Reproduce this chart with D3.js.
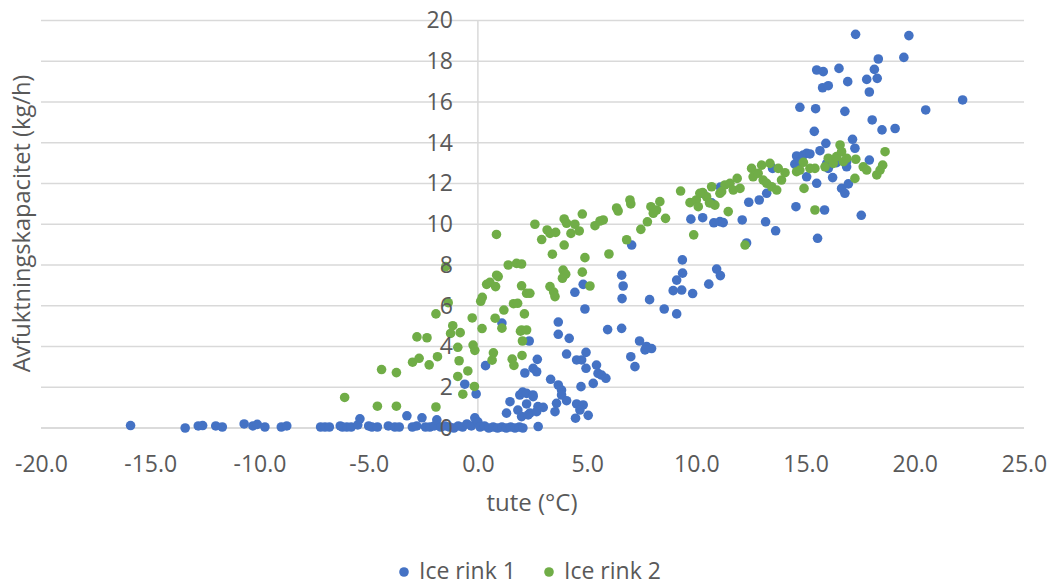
<!DOCTYPE html>
<html>
<head>
<meta charset="utf-8">
<script src="https://cdn.jsdelivr.net/npm/d3@7"></script>
<style>
  html, body { margin: 0; padding: 0; background: #ffffff; }
  svg { display: block; }
  text { font-family: "Open Sans", "Noto Sans", sans-serif; fill: #595959; }
</style>
</head>
<body>
<svg id="chart" width="1053" height="586"></svg>
<script>
// ---------- data ----------
const xTicks = [-20, -15, -10, -5, 0, 5, 10, 15, 20, 25];
const yTicks = [0, 2, 4, 6, 8, 10, 12, 14, 16, 18, 20];
const xTitle = "tute (°C)";
const yTitle = "Avfuktningskapacitet (kg/h)";
const seriesNames = ["Ice rink 1", "Ice rink 2"];
const seriesColors = ["#4472C4", "#70AD47"];

// Ice rink 1 : [outdoor temperature, capacity]
const rink1 = [
  [-15.9,0.12],[-13.4,0.0],[-12.8,0.1],[-12.6,0.12],[-12.0,0.1],[-11.7,0.05],[-10.7,0.2],[-10.3,0.1],
  [-10.1,0.18],[-9.75,0.05],[-9.0,0.05],[-8.75,0.1],[-7.2,0.05],[-7.0,0.05],[-6.8,0.05],[-6.3,0.1],
  [-6.2,0.05],[-6.0,0.05],[-5.8,0.05],[-5.5,0.15],[-5.4,0.45],[-5.0,0.1],[-4.85,0.05],[-4.6,0.05],
  [-4.1,0.1],[-3.8,0.05],[-3.6,0.05],[-3.25,0.6],[-3.0,0.05],[-2.8,0.1],[-2.56,0.5],[-2.4,0.05],
  [-2.2,0.05],[-2.0,0.1],[-1.88,0.4],[-1.7,0.05],[-1.5,0.1],[-1.3,0.05],[-1.1,0.0],[-0.9,0.1],
  [-0.7,0.05],[-0.5,0.2],[-0.3,0.1],[-0.14,0.5],[0.0,0.3],[0.1,0.05],[0.3,0.1],[0.5,0.0],
  [0.7,0.05],[0.9,0.0],[1.1,0.05],[1.3,0.0],[1.5,0.05],[1.7,0.0],[1.9,0.05],[2.06,0.0],[2.76,0.07],
  [-0.6,2.15],[-0.08,1.67],[0.35,3.06],[1.1,5.15],
  [1.31,0.73],[1.47,1.29],[1.83,0.88],[1.92,1.62],[2.05,1.76],[2.23,1.7],[2.52,1.62],[2.23,1.18],
  [2.38,0.73],[2.75,1.05],[2.99,1.01],[2.69,0.8],[2.0,0.56],[2.3,0.64],[2.53,1.54],[2.15,2.7],
  [2.53,2.93],[2.69,2.76],[2.72,3.37],[2.35,4.27],
  [3.33,2.39],[3.68,2.11],[3.83,1.86],[3.83,1.62],[3.6,1.21],[3.53,0.8],[4.06,1.34],[4.47,0.48],
  [4.52,1.18],[4.82,1.13],[4.67,0.88],[5.05,0.62],[4.72,2.03],[5.28,2.19],[5.5,2.68],[5.66,2.6],
  [5.86,2.44],[4.95,2.93],[5.43,3.09],[4.52,3.34],[4.75,3.34],[4.06,3.63],[4.95,3.71],[4.18,4.4],
  [3.68,4.6],[3.68,5.2],[4.9,5.84],[5.94,4.83],[6.58,4.89],[7.0,3.5],[7.19,3.01],[7.4,4.27],
  [7.72,4.0],[7.95,3.9],[7.65,3.83],[8.53,5.84],[9.1,5.6],
  [6.6,6.35],[7.86,6.3],[6.65,6.97],[6.58,7.5],[4.44,6.66],[4.82,7.05],[7.04,8.98],[9.36,8.25],
  [8.94,6.74],[9.33,6.77],[9.83,6.6],[10.57,7.06],[10.93,7.8],[11.1,7.48],[9.37,7.6],[9.1,7.26],
  [9.75,10.25],[10.29,10.32],[10.8,10.07],[11.08,10.13],[11.23,10.08],[10.7,11.05],[11.1,11.82],
  [10.3,11.52],[12.1,10.21],[13.17,10.12],[13.63,9.68],[12.3,9.08],[15.55,9.31],[14.56,10.86],
  [15.87,10.7],[17.55,10.44],[12.4,11.08],[12.88,11.19],[13.22,11.52],[13.49,12.74],[14.51,12.95],
  [14.59,13.35],[14.74,13.07],[14.9,13.4],[15.05,13.48],[15.2,13.45],[15.66,13.61],[15.93,13.97],
  [15.4,14.56],[17.15,14.17],[17.26,13.73],[15.97,12.99],[16.42,13.02],[16.88,13.07],[17.92,13.15],
  [16.04,12.74],[16.88,12.82],[15.05,12.33],[16.24,12.29],[15.51,12.01],[16.65,11.76],[16.96,11.98],
  [16.8,11.52],[18.5,14.63],[19.1,14.7],[18.05,15.12],[14.74,15.74],[15.46,15.67],[16.8,15.54],
  [20.5,15.61],[22.19,16.1],[15.78,16.7],[16.04,16.8],[17.92,16.49],[16.93,17.0],[17.8,17.11],
  [18.28,17.16],[15.51,17.57],[15.81,17.49],[16.53,17.65],[18.15,17.6],[18.33,18.11],[19.5,18.19],
  [17.29,19.32],[19.73,19.26]
];

// Ice rink 2 : [outdoor temperature, capacity]
const rink2 = [
  [-6.1,1.5],[-4.6,1.07],[-3.73,1.07],[-1.92,1.03],[-4.41,2.87],[-3.73,2.72],[-2.99,3.23],[-2.69,3.42],
  [-2.23,3.1],[-1.85,3.5],[-2.79,4.47],[-2.33,4.43],[-1.92,5.6],[-1.47,7.92],[-1.36,6.15],[-1.15,5.02],
  [-1.25,4.64],[-0.81,4.68],[-0.92,3.96],[-0.86,3.3],[-0.46,2.8],[-0.92,2.53],[-0.69,1.66],[-0.16,2.04],
  [-0.22,4.07],[-0.14,3.81],[-0.26,5.4],[0.19,4.88],[0.13,6.22],[0.2,6.41],[0.79,5.39],[1.1,4.9],
  [1.19,5.79],[0.71,3.69],[0.65,3.33],[1.57,3.38],[1.65,3.07],[2.02,3.56],[1.95,4.75],[2.04,4.27],
  [1.63,6.1],[1.82,6.12],[2.13,5.6],[2.0,4.81],[2.23,4.81],
  [0.4,7.05],[0.55,7.15],[0.81,6.94],[0.93,7.43],[0.86,7.5],[1.39,8.0],[1.77,8.08],[2.0,8.05],
  [2.0,6.98],[2.23,6.61],[2.38,6.61],[0.85,9.5],
  [2.61,10.0],[2.92,9.25],[3.17,9.72],[3.3,9.55],[3.56,9.6],[3.95,10.26],[4.06,10.05],[4.44,10.0],
  [4.26,9.55],[4.64,9.67],[4.78,10.5],[3.95,8.98],[3.41,8.53],[4.9,8.36],[6.0,8.54],[6.81,9.24],
  [3.9,7.75],[4.02,7.55],[3.87,7.35],[4.78,7.65],[5.13,6.97],[3.3,6.94],[3.47,6.67],[3.53,6.45],
  [5.36,9.93],[5.59,10.16],[5.74,10.21],[6.35,10.8],[6.42,10.65],[6.96,11.19],[7.0,11.0],[7.46,9.75],
  [7.76,10.12],[7.92,10.86],[8.33,11.11],[8.18,10.7],[8.59,10.29],[8.03,10.54],[9.28,11.63],[9.88,9.48],
  [9.71,11.06],[10.0,11.19],[10.09,10.86],[10.29,11.55],[10.47,11.35],[10.7,11.84],[10.85,10.94],
  [10.16,11.52],[10.6,11.05],[11.08,11.52],[11.31,11.93],[11.54,12.01],[11.69,11.68],[11.87,12.25],
  [12.0,11.76],[11.46,10.62],[11.16,11.6],
  [12.53,12.74],[12.6,12.33],[12.83,12.5],[12.99,12.9],[13.06,12.17],[13.22,12.01],[13.37,12.99],
  [13.45,11.84],[13.68,11.68],[13.75,12.74],[13.9,12.17],[14.06,12.53],[12.23,8.98],
  [14.59,12.58],[14.74,12.66],[14.9,13.04],[15.2,12.74],[15.43,12.74],[14.93,11.76],[15.43,10.7],
  [15.89,12.82],[16.04,13.24],[16.27,12.99],[16.42,13.32],[16.58,13.89],[16.65,13.56],[16.73,13.07],
  [16.88,13.24],[17.26,12.25],[17.3,13.19],
  [17.64,12.82],[17.8,12.66],[18.26,12.42],[18.41,12.66],[18.53,12.9],[18.64,13.56]
];

// ---------- drawing ----------
const svg = d3.select("#chart");
const x = d3.scaleLinear().domain([-20, 25]).range([41, 1024]);
const y = d3.scaleLinear().domain([0, 20]).range([428, 20.5]);

// horizontal gridlines
svg.append("g").selectAll("line").data(yTicks).join("line")
  .attr("x1", x(-20)).attr("x2", x(25))
  .attr("y1", d => y(d)).attr("y2", d => y(d))
  .attr("stroke", d => d === 0 ? "#cfcfcf" : "#d9d9d9")
  .attr("stroke-width", 1.5);

// vertical axis line at x = 0
svg.append("line")
  .attr("x1", x(0)).attr("x2", x(0))
  .attr("y1", y(20)).attr("y2", y(0))
  .attr("stroke", "#d9d9d9").attr("stroke-width", 1.5);

// points
const series = [rink1, rink2];
series.forEach((data, i) => {
  svg.append("g").selectAll("circle").data(data).join("circle")
    .attr("cx", d => x(d[0]))
    .attr("cy", d => y(d[1]))
    .attr("r", 4.8)
    .attr("fill", seriesColors[i]);
});

// x axis labels
const xAxis = svg.append("g")
  .attr("transform", `translate(0,${y(0)})`)
  .call(d3.axisBottom(x).tickValues(xTicks).tickFormat(d => d.toFixed(1)).tickSize(0).tickPadding(27.5));
xAxis.select(".domain").remove();
xAxis.selectAll("text").attr("font-size", 23).style("fill", "#595959");
xAxis.attr("font-family", null).attr("font-size", null);

// y axis labels (at x = 0)
const yAxis = svg.append("g")
  .attr("transform", `translate(${x(0)},0)`)
  .call(d3.axisLeft(y).tickValues(yTicks).tickFormat(d => d).tickSize(0).tickPadding(25));
yAxis.select(".domain").remove();
yAxis.selectAll("text").attr("font-size", 23).style("fill", "#595959");
yAxis.attr("font-family", null).attr("font-size", null);

// axis titles
svg.append("text")
  .attr("x", 532).attr("y", 511)
  .attr("text-anchor", "middle").attr("font-size", 24)
  .text(xTitle);

svg.append("text")
  .attr("transform", "translate(30,223.5) rotate(-90)")
  .attr("text-anchor", "middle").attr("font-size", 23.6)
  .text(yTitle);

// legend
const legendX = [404, 549];
const legend = svg.append("g").selectAll("g").data(seriesNames).join("g")
  .attr("transform", (d, i) => `translate(${legendX[i]},572)`);
legend.append("circle").attr("r", 4.8).attr("fill", (d, i) => seriesColors[i]);
legend.append("text").attr("x", 15).attr("y", 7).attr("font-size", 23).text(d => d);
</script>
</body>
</html>
